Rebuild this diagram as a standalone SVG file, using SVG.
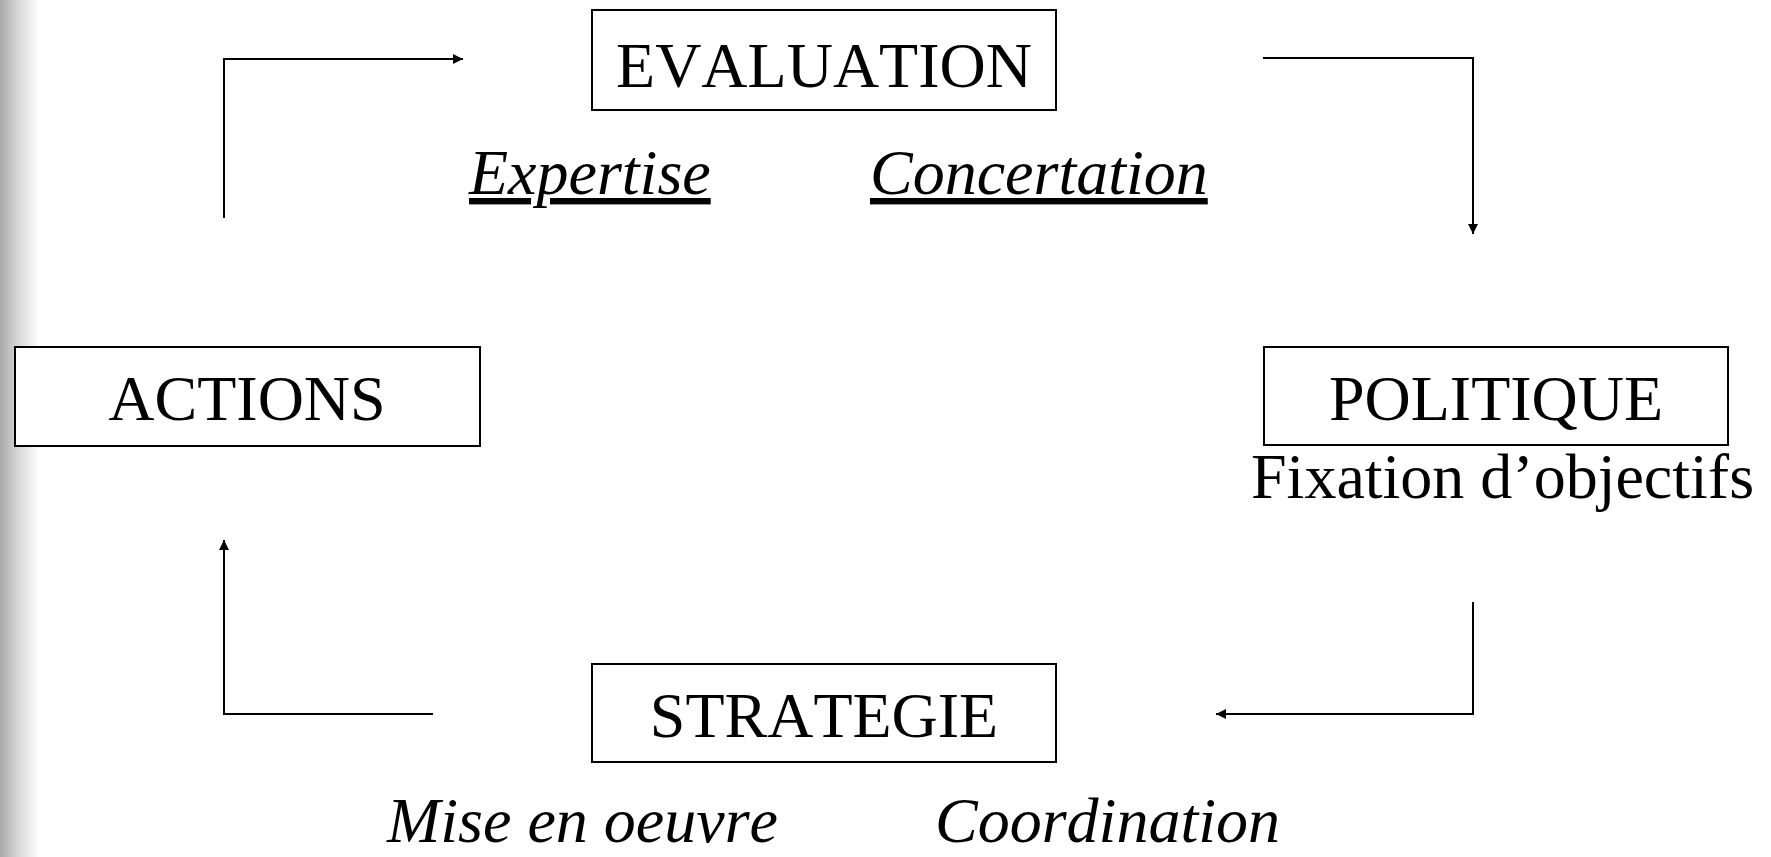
<svg xmlns="http://www.w3.org/2000/svg" width="1771" height="857" viewBox="0 0 1771 857">
<defs>
<linearGradient id="edge" x1="0" y1="0" x2="1" y2="0">
<stop offset="0" stop-color="#a8a8a8"/>
<stop offset="0.45" stop-color="#d8d8d8"/>
<stop offset="1" stop-color="#ffffff"/>
</linearGradient>
<marker id="arr" viewBox="0 0 10 10" refX="10" refY="5" markerWidth="5" markerHeight="5" orient="auto" markerUnits="strokeWidth">
<path d="M0,0 L10,5 L0,10 z" fill="#000"/>
</marker>
<style>
.box{fill:#fff;stroke:#000;stroke-width:2}
.t{font-family:"Liberation Serif","Times New Roman",serif;font-size:64px;fill:#000;font-kerning:none}
.c{text-anchor:middle}
.i{font-style:italic}
.u{text-decoration:underline}
.ln{fill:none;stroke:#000;stroke-width:2}
</style>
</defs>
<rect x="0" y="0" width="1771" height="857" fill="#fff"/>
<rect x="0" y="0" width="40" height="857" fill="url(#edge)"/>
<g id="connectors">
<polyline class="ln" points="224,218 224,59 463,59" marker-end="url(#arr)"/>
<polyline class="ln" points="1263,58 1473,58 1473,234" marker-end="url(#arr)"/>
<polyline class="ln" points="1473,602 1473,714 1216,714" marker-end="url(#arr)"/>
<polyline class="ln" points="433,714 224,714 224,540" marker-end="url(#arr)"/>
</g>
<g id="evaluation">
<rect class="box" x="592" y="10" width="464" height="100"/>
<text class="t c" x="824" y="87">EVALUATION</text>
</g>
<g id="evaluation-labels">
<text class="t i u" x="469" y="194">Expertise</text>
<text class="t i u" x="870" y="194">Concertation</text>
</g>
<g id="actions">
<rect class="box" x="15" y="347" width="465" height="99"/>
<text class="t c" x="247" y="420">ACTIONS</text>
</g>
<g id="politique">
<rect class="box" x="1264" y="347" width="464" height="98"/>
<text class="t c" x="1496" y="420">POLITIQUE</text>
<text class="t" x="1251" y="498">Fixation d’objectifs</text>
</g>
<g id="strategie">
<rect class="box" x="592" y="664" width="464" height="98"/>
<text class="t c" x="824" y="737">STRATEGIE</text>
</g>
<g id="strategie-labels">
<text class="t i" x="387" y="842">Mise en oeuvre</text>
<text class="t i" x="935" y="842">Coordination</text>
</g>
</svg>
